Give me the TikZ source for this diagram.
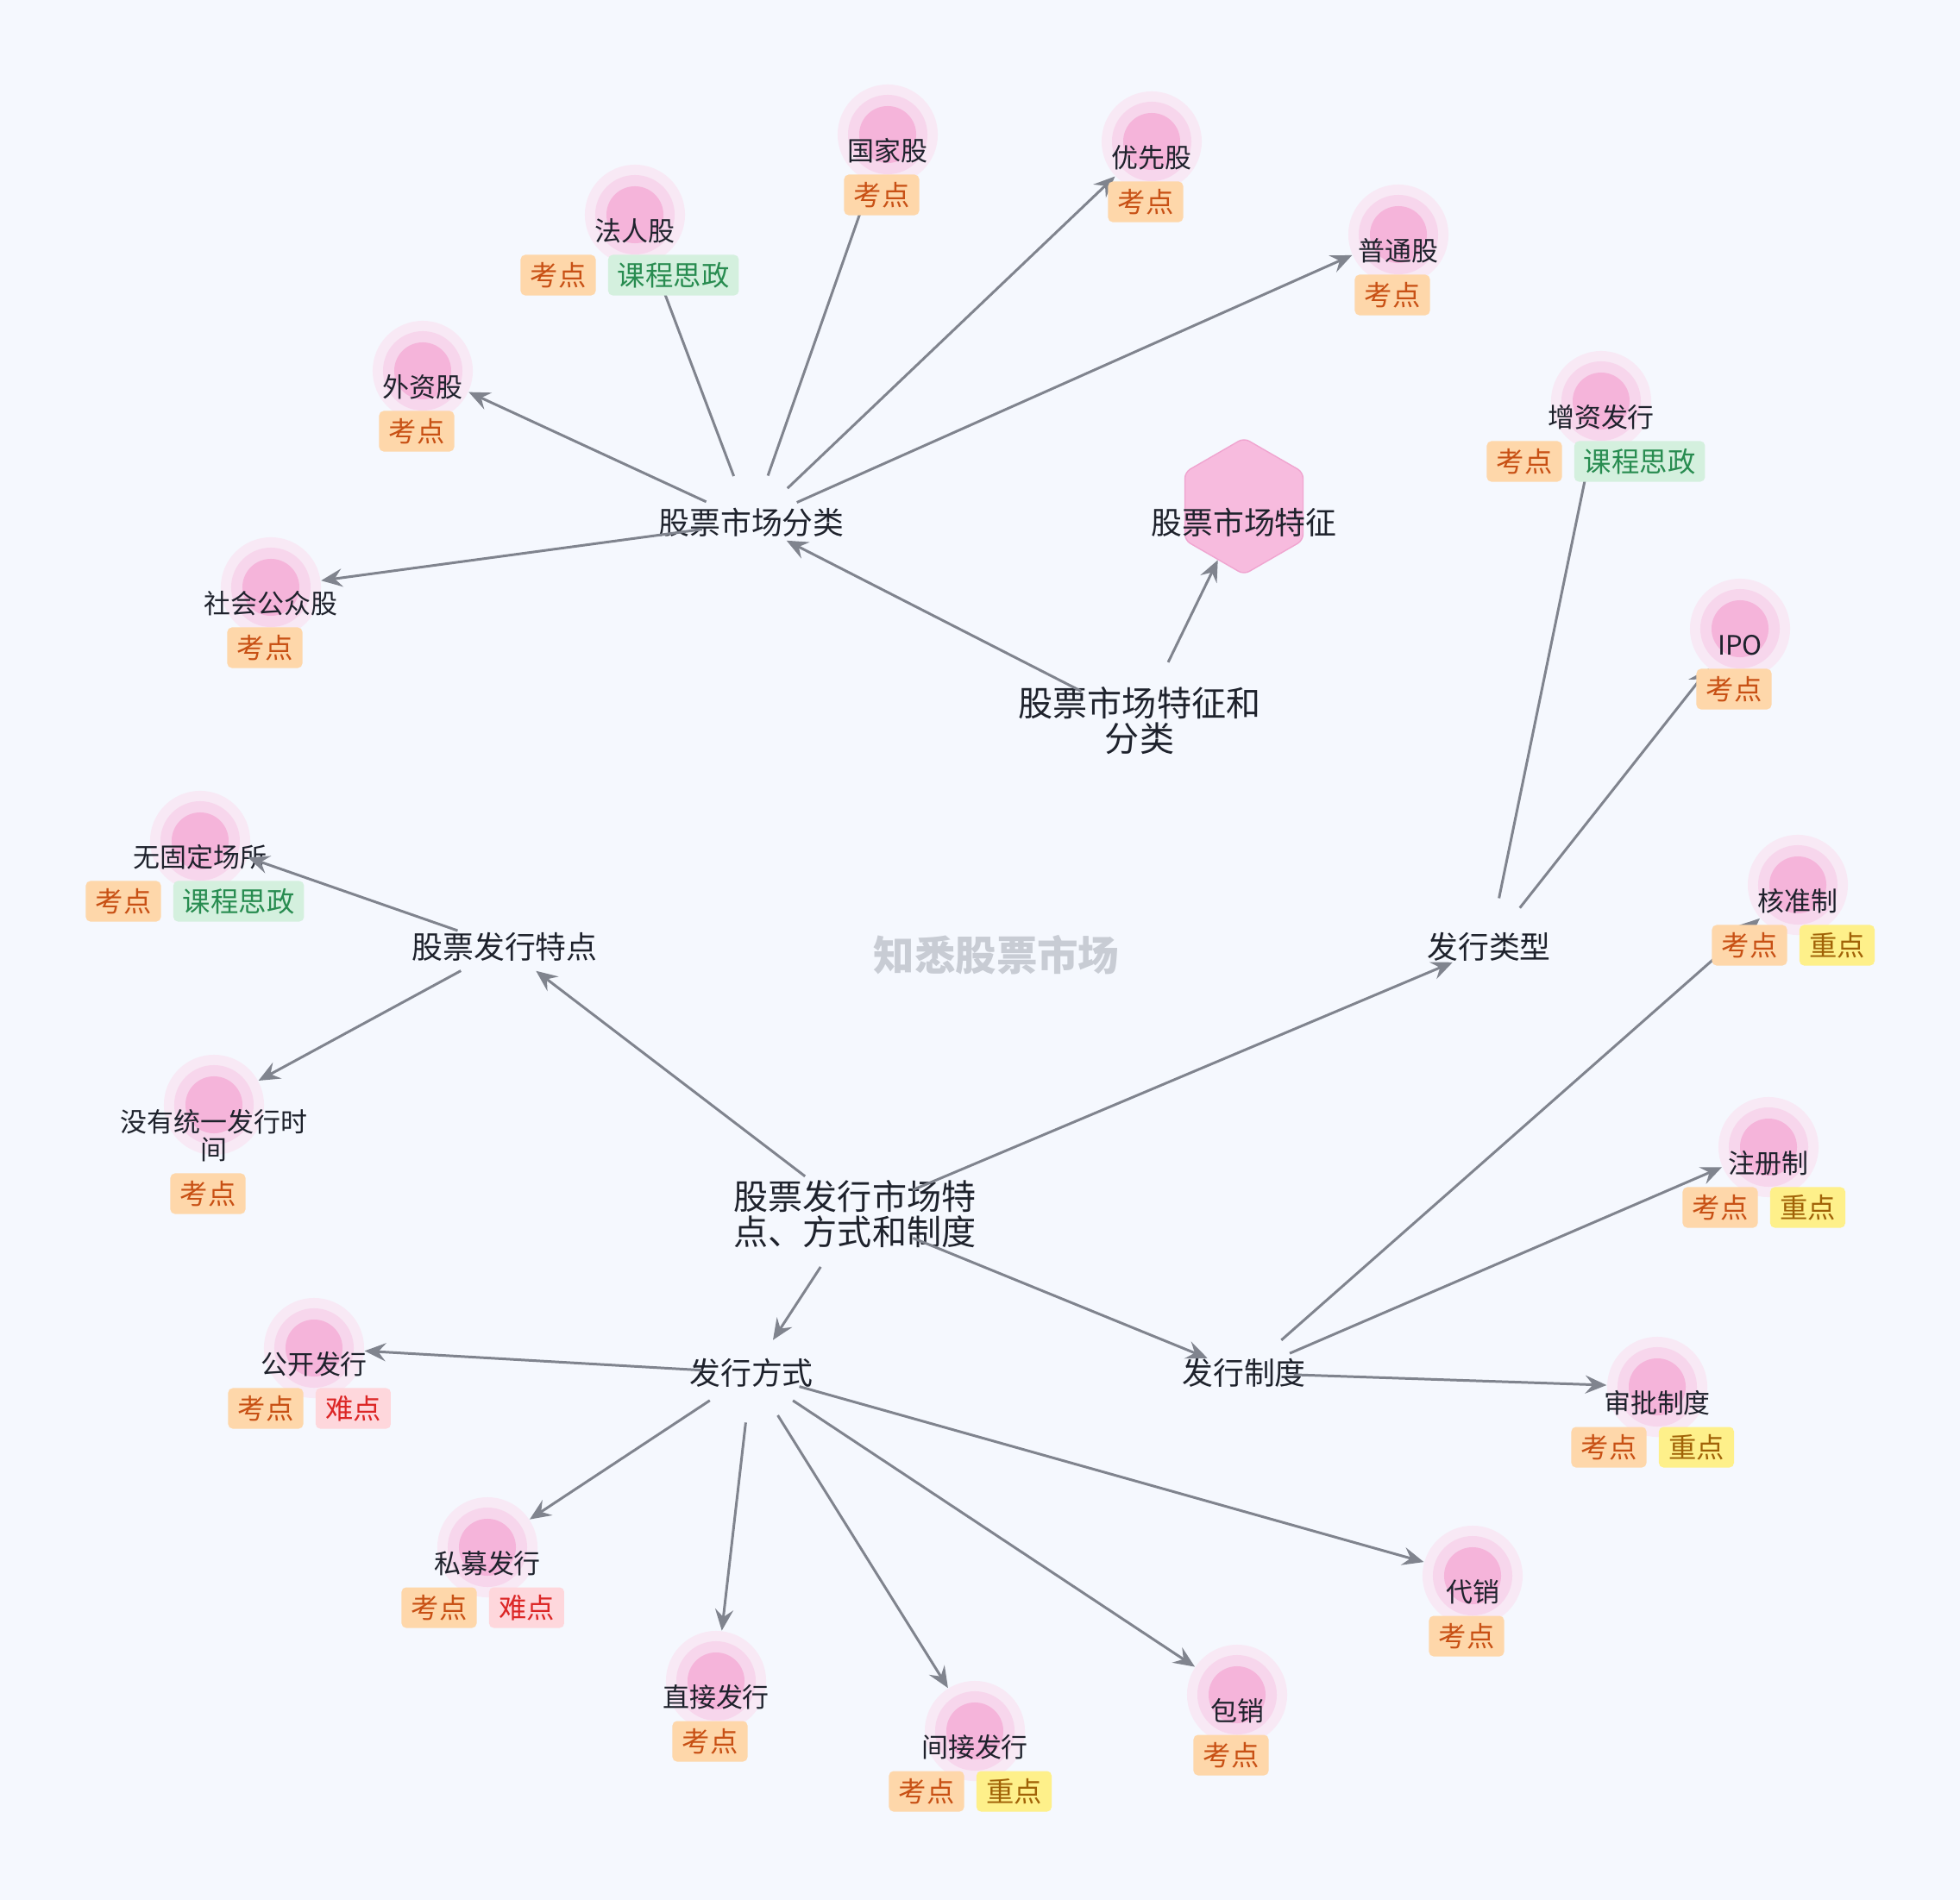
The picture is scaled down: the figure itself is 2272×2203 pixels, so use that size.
\documentclass[tikz,border=0pt]{standalone}
\usepackage{fontspec}
\setmainfont{Noto Sans CJK SC}
\usepackage{xcolor}
\definecolor{bgpaper}{RGB}{245,248,254}
\definecolor{edgegrey}{RGB}{128,132,142}
\definecolor{inkdark}{RGB}{30,34,44}
\definecolor{pinkcore}{RGB}{245,180,218}
\definecolor{pinkmid}{RGB}{247,214,236}
\definecolor{pinkouter}{RGB}{248,233,245}
\definecolor{hexfill}{RGB}{247,187,222}
\definecolor{hexdraw}{RGB}{240,165,208}
\definecolor{kaofill}{RGB}{254,215,170}
\definecolor{kaotext}{RGB}{200,80,20}
\definecolor{sizhengfill}{RGB}{212,240,222}
\definecolor{sizhengtext}{RGB}{40,140,80}
\definecolor{zhongfill}{RGB}{254,240,138}
\definecolor{zhongtext}{RGB}{161,98,7}
\definecolor{nanfill}{RGB}{254,215,220}
\definecolor{nantext}{RGB}{220,38,38}
\definecolor{markgrey}{RGB}{200,204,212}
\usepackage{tikz}
\usetikzlibrary{
  arrows.meta,
  positioning,
  shapes.geometric,
  calc
}
\newcommand{\leaffont}{\fontsize{8.8}{9.1}\selectfont}
\newcommand{\tagfont}{\fontsize{9.2}{9.2}\selectfont}
\newcommand{\hubfont}{\fontsize{10.2}{10.4}\selectfont}
\newcommand{\rootfont}{\fontsize{11.4}{11.6}\selectfont}
\newcommand{\markfont}{\fontsize{13.5}{13.5}\selectfont\bfseries}
\tikzset{
  leaf/.style={circle, minimum size=1.16cm, inner sep=0pt, fill=pinkouter,
    path picture={
      \fill[pinkmid] (path picture bounding box.center) circle (0.46cm);
      \fill[pinkcore] (path picture bounding box.center) circle (0.33cm);}},
  leaftxt/.style={font=\leaffont, text=inkdark},
  leaflbl/.style={leaftxt, yshift=-0.19cm},
  hub/.style={circle, minimum size=0.9cm, inner sep=0pt},
  hubtxt/.style={font=\hubfont, text=inkdark},
  roottxt/.style={font=\rootfont, text=inkdark, align=center},
  hexa/.style={regular polygon, regular polygon sides=6, shape border rotate=30,
    minimum size=1.58cm, inner sep=0pt, fill=hexfill, draw=hexdraw,
    line width=0.4pt, rounded corners=2pt},
  tagbase/.style={rounded corners=1.5pt, minimum height=0.47cm,
    minimum width=0.87cm, inner xsep=0.11cm, inner ysep=0pt, font=\tagfont},
  kaodian/.style={tagbase, fill=kaofill, text=kaotext},
  sizheng/.style={tagbase, fill=sizhengfill, text=sizhengtext},
  zhongdian/.style={tagbase, fill=zhongfill, text=zhongtext},
  nandian/.style={tagbase, fill=nanfill, text=nantext},
  arr/.style={-{Stealth[length=7pt, width=6pt, inset=2.5pt]}, draw=edgegrey,
    line width=0.85pt, shorten <=0.12cm},
}

\begin{document}
\begin{tikzpicture}[x=0.01cm, y=-0.01cm, tagpair/.style={right=0.13cm of #1}]
  \useasboundingbox (0,0) rectangle (2272,2203);
  \fill[bgpaper] (0,0) rectangle (2272,2203);

  % Leaves
  \node[leaf, label={[leaflbl]center:国家股}] (guojia) at (1029,156) {};
  \node[leaf, label={[leaflbl]center:优先股}] (youxian) at (1335,164) {};
  \node[leaf, label={[leaflbl]center:法人股}] (faren) at (736,249) {};
  \node[leaf, label={[leaflbl]center:普通股}] (putong) at (1621,272) {};
  \node[leaf, label={[leaflbl]center:外资股}] (waizi) at (490,430) {};
  \node[leaf, label={[leaflbl]center:社会公众股}] (shehui) at (314,681) {};
  \node[leaf, label={[leaflbl]center:增资发行}] (zengzi) at (1856,465) {};
  \node[leaf, label={[leaflbl]center:IPO}] (ipo) at (2017,729) {};
  \node[leaf, label={[leaflbl]center:无固定场所}] (wuguding) at (232,975) {};
  \node[leaf, label={[leaftxt, align=center, yshift=-0.36cm]center:{没有统一发行时\\间}}] (meiyou) at (248,1281) {};
  \node[leaf, label={[leaflbl]center:核准制}] (hezhun) at (2084,1026) {};
  \node[leaf, label={[leaflbl]center:注册制}] (zhuce) at (2050,1330) {};
  \node[leaf, label={[leaflbl]center:审批制度}] (shenpi) at (1921,1608) {};
  \node[leaf, label={[leaflbl]center:代销}] (daixiao) at (1707,1827) {};
  \node[leaf, label={[leaflbl]center:包销}] (baoxiao) at (1434,1965) {};
  \node[leaf, label={[leaflbl]center:间接发行}] (jianjie) at (1130,2007) {};
  \node[leaf, label={[leaflbl]center:直接发行}] (zhijie) at (830,1949) {};
  \node[leaf, label={[leaflbl]center:私募发行}] (simu) at (565,1794) {};
  \node[leaf, label={[leaflbl]center:公开发行}] (gongkai) at (364,1563) {};

  % Hubs
  \node[hub, minimum size=1.2cm, label={[roottxt]center:{股票发行市场特\\点、方式和制度}}] (root) at (991,1408) {};
  \node[hub, minimum size=1.26cm, label={[roottxt]center:{股票市场特征和\\分类}}] (tzfl) at (1321,836) {};
  \node[hub, label={[hubtxt]center:股票市场分类}] (fenlei) at (871,606) {};
  \node[hexa, label={[hubtxt, yshift=-0.19cm]center:股票市场特征}] (tezheng) at (1442,587) {};
  \node[hub, label={[hubtxt]center:股票发行特点}] (tedian) at (585,1098) {};
  \node[hub, label={[hubtxt]center:发行类型}] (leixing) at (1726,1098) {};
  \node[hub, label={[hubtxt]center:发行方式}] (fangshi) at (871,1592) {};
  \node[hub, label={[hubtxt]center:发行制度}] (zhidu) at (1442,1592) {};
  \node[font=\markfont, text=markgrey] (mark) at (1155,1107) {知悉股票市场};

  % Edges
  \draw[arr] (tzfl) -- (fenlei);
  \draw[arr] (tzfl) -- (tezheng);
  \draw[arr] (fenlei) -- (waizi);
  \draw[arr] (fenlei) -- (faren);
  \draw[arr] (fenlei) -- (guojia);
  \draw[arr] (fenlei) -- (youxian);
  \draw[arr] (fenlei) -- (putong);
  \draw[arr] (fenlei) -- (shehui);
  \draw[arr] (root) -- (tedian);
  \draw[arr] (root) -- (leixing);
  \draw[arr] (root) -- (fangshi);
  \draw[arr] (root) -- (zhidu);
  \draw[arr] (tedian) -- (wuguding);
  \draw[arr] (tedian) -- (meiyou);
  \draw[arr] (leixing) -- (zengzi);
  \draw[arr] (leixing) -- (ipo);
  \draw[arr] (zhidu) -- (hezhun);
  \draw[arr] (zhidu) -- (zhuce);
  \draw[arr] (zhidu) -- (shenpi);
  \draw[arr] (fangshi) -- (gongkai);
  \draw[arr] (fangshi) -- (simu);
  \draw[arr] (fangshi) -- (zhijie);
  \draw[arr] (fangshi) -- (jianjie);
  \draw[arr] (fangshi) -- (baoxiao);
  \draw[arr] (fangshi) -- (daixiao);

  % Tags
  \node[kaodian] (guojia-k) at ($(guojia)+(-7,70)$) {考点};
  \node[kaodian] (youxian-k) at ($(youxian)+(-7,70)$) {考点};
  \node[kaodian] (faren-k) at ($(faren)+(-89,70)$) {考点};
  \node[sizheng, tagpair=faren-k] (faren-s) {课程思政};
  \node[kaodian] (putong-k) at ($(putong)+(-7,70)$) {考点};
  \node[kaodian] (waizi-k) at ($(waizi)+(-7,70)$) {考点};
  \node[kaodian] (shehui-k) at ($(shehui)+(-7,70)$) {考点};
  \node[kaodian] (zengzi-k) at ($(zengzi)+(-89,70)$) {考点};
  \node[sizheng, tagpair=zengzi-k] (zengzi-s) {课程思政};
  \node[kaodian] (ipo-k) at ($(ipo)+(-7,70)$) {考点};
  \node[kaodian] (wuguding-k) at ($(wuguding)+(-89,70)$) {考点};
  \node[sizheng, tagpair=wuguding-k] (wuguding-s) {课程思政};
  \node[kaodian] (meiyou-k) at ($(meiyou)+(-7,103)$) {考点};
  \node[kaodian] (hezhun-k) at ($(hezhun)+(-56,70)$) {考点};
  \node[zhongdian, tagpair=hezhun-k] (hezhun-z) {重点};
  \node[kaodian] (zhuce-k) at ($(zhuce)+(-56,70)$) {考点};
  \node[zhongdian, tagpair=zhuce-k] (zhuce-z) {重点};
  \node[kaodian] (shenpi-k) at ($(shenpi)+(-56,70)$) {考点};
  \node[zhongdian, tagpair=shenpi-k] (shenpi-z) {重点};
  \node[kaodian] (daixiao-k) at ($(daixiao)+(-7,70)$) {考点};
  \node[kaodian] (baoxiao-k) at ($(baoxiao)+(-7,70)$) {考点};
  \node[kaodian] (jianjie-k) at ($(jianjie)+(-56,70)$) {考点};
  \node[zhongdian, tagpair=jianjie-k] (jianjie-z) {重点};
  \node[kaodian] (zhijie-k) at ($(zhijie)+(-7,70)$) {考点};
  \node[kaodian] (simu-k) at ($(simu)+(-56,70)$) {考点};
  \node[nandian, tagpair=simu-k] (simu-n) {难点};
  \node[kaodian] (gongkai-k) at ($(gongkai)+(-56,70)$) {考点};
  \node[nandian, tagpair=gongkai-k] (gongkai-n) {难点};
\end{tikzpicture}
\end{document}
